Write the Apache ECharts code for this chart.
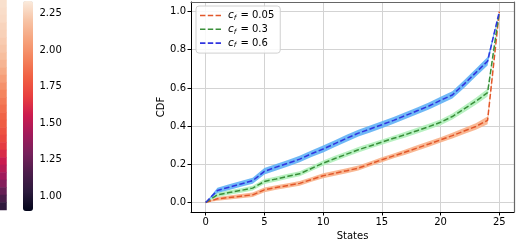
<!DOCTYPE html>
<html><head><meta charset="utf-8">
<script src="https://cdn.jsdelivr.net/npm/echarts@6/dist/echarts.min.js"></script>
<style>html,body{margin:0;padding:0;background:#fff}#c{width:516px;height:242px}</style>
</head><body><div id="c"></div>
<script>
// ---- data ----
const states = [0,1,2,3,4,5,6,7,8,9,10,11,12,13,14,15,16,17,18,19,20,21,22,23,24,25];
const seriesNames = ['c_f = 0.05','c_f = 0.3','c_f = 0.6'];
const cdfLow  = [0,0.019,0.026,0.033,0.040,0.066,0.078,0.089,0.100,0.120,0.140,0.153,0.166,0.180,0.202,0.224,0.244,0.264,0.285,0.306,0.328,0.350,0.374,0.398,0.430,1.0];
const cdfMid  = [0,0.040,0.052,0.063,0.075,0.110,0.123,0.137,0.150,0.178,0.206,0.230,0.253,0.276,0.296,0.316,0.336,0.355,0.376,0.397,0.420,0.450,0.490,0.530,0.575,1.0];
const cdfHigh = [0,0.063,0.080,0.097,0.114,0.163,0.185,0.205,0.227,0.255,0.280,0.308,0.336,0.363,0.385,0.407,0.430,0.455,0.480,0.505,0.535,0.563,0.620,0.680,0.740,1.0];
const spreadLow  = [0,0.010,0.011,0.011,0.012,0.012,0.012,0.012,0.012,0.012,0.013,0.013,0.013,0.013,0.013,0.013,0.013,0.014,0.014,0.014,0.014,0.015,0.016,0.017,0.020,0];
const spreadMid  = [0,0.011,0.012,0.012,0.012,0.013,0.013,0.013,0.013,0.013,0.014,0.014,0.014,0.014,0.014,0.014,0.014,0.015,0.015,0.015,0.015,0.016,0.017,0.018,0.020,0];
const spreadHigh = [0,0.014,0.015,0.015,0.016,0.017,0.017,0.017,0.017,0.017,0.018,0.018,0.018,0.018,0.018,0.018,0.018,0.018,0.018,0.018,0.019,0.019,0.020,0.020,0.022,0];
const xTicks = [0,5,10,15,20,25];
const yTicks = [0,0.2,0.4,0.6,0.8,1.0];
const cbarTicks = [1.00,1.25,1.50,1.75,2.00,2.25];
const heatStrip = [2.30,2.29,2.28,2.26,2.25,2.23,2.21,2.18,2.14,2.10,2.05,2.00,1.95,1.91,1.87,1.83,1.80,1.76,1.72,1.67,1.61,1.55,1.49,1.42,1.33,1.24,1.15,1.05];

// ---- styling ----
const FONT = 'DejaVu Sans';
const lineColors = ['#e2572a','#3a8f3a','#3035e0'];
const bandColors = ['#f8b088','#b0f0ba','#5fb0f5'];
const cdfs = [cdfLow, cdfMid, cdfHigh];
const spreads = [spreadLow, spreadMid, spreadHigh];
const dashIcon = 'path://M0,0h5.5v1.6h-5.5z M7.9,0h5.5v1.6h-5.5z M15.8,0h5.5v1.6h-5.5z';

const chart = echarts.init(document.getElementById('c'), null, {renderer:'canvas'});

const series = [];
// heatmap strip (left, cut off)
series.push({
  type:'heatmap', xAxisIndex:2, yAxisIndex:2,
  data: heatStrip.map((v,i)=>[0,i,v]), silent:true
});
// bands as polygons (through the axis scales)
cdfs.forEach((d,k)=>{
  const sp = spreads[k];
  const rows = states.map((s,i)=>[s, d[i]-sp[i], d[i]+sp[i]]);
  series.push({
    type:'custom', xAxisIndex:0, yAxisIndex:0, silent:true, z:2,
    data: rows,
    encode:{x:0, y:[1,2]},
    renderItem:(params, api)=>{
      if (params.dataIndex !== 0) return null;
      const upper = rows.map(r=>api.coord([r[0], r[2]]));
      const lower = rows.map(r=>api.coord([r[0], r[1]])).reverse();
      return {type:'polygon', shape:{points: upper.concat(lower)},
              style:{fill:bandColors[k], opacity:0.9}};
    }
  });
});
// dashed lines
cdfs.forEach((d,k)=>{
  series.push({
    name: seriesNames[k], type:'line', xAxisIndex:0, yAxisIndex:0, symbol:'none', silent:true,
    data: states.map((s,i)=>[s, d[i]]),
    lineStyle:{color:lineColors[k], width:1.5, type:[5.5,2.4]},
    itemStyle:{color:lineColors[k]}, z:3
  });
});

const option = {
  animation:false,
  textStyle:{fontFamily:FONT},
  grid:[
    {left:191, top:2, width:323, height:210, containLabel:false, outerBoundsMode:'none'},
    {left:23, top:1, width:10, height:210, containLabel:false, outerBoundsMode:'none'},
    {left:0, top:0, width:6.5, height:210, containLabel:false, outerBoundsMode:'none'}
  ],
  xAxis:[
    {gridIndex:0, type:'value', min:-1.25, max:26.25,
     name:'States', nameLocation:'middle', nameGap:19,
     nameTextStyle:{fontFamily:FONT, fontSize:10, color:'#000'},
     axisLine:{show:true, onZero:false, lineStyle:{color:'#000', width:1}},
     axisTick:{show:true, length:3.5, customValues:xTicks, lineStyle:{color:'#000'}},
     axisLabel:{customValues:xTicks, fontFamily:FONT, fontSize:10, color:'#000', margin:5},
     splitLine:{show:true, lineStyle:{color:'#d3d3d3', width:1}}},
    {gridIndex:1, type:'value', show:false},
    {gridIndex:2, type:'category', data:['a'], show:false},
    {gridIndex:0, type:'value', min:-1.25, max:26.25, position:'top',
     axisLine:{show:true, onZero:false, lineStyle:{color:'#666', width:1.2}},
     axisTick:{show:false}, axisLabel:{show:false}, splitLine:{show:false}}
  ],
  yAxis:[
    {gridIndex:0, type:'value', min:-0.05, max:1.05,
     name:'CDF', nameLocation:'middle', nameGap:25, nameRotate:90,
     nameMoveOverlap:false,
     nameTextStyle:{fontFamily:FONT, fontSize:10, color:'#000'},
     axisLine:{show:true, onZero:false, lineStyle:{color:'#000', width:1}},
     axisTick:{show:true, length:3.5, customValues:yTicks, lineStyle:{color:'#000'}},
     axisLabel:{customValues:yTicks, fontFamily:FONT, fontSize:10, color:'#000', margin:5,
       formatter:v=>Number(v).toFixed(1)},
     splitLine:{show:true, lineStyle:{color:'#d3d3d3', width:1}}},
    {gridIndex:1, type:'value', min:0.9, max:2.337, position:'right',
     axisLine:{show:false},
     axisTick:{show:true, length:3.5, customValues:cbarTicks, lineStyle:{color:'#000'}},
     axisLabel:{customValues:cbarTicks, fontFamily:FONT, fontSize:10, color:'#000', margin:6.5,
       formatter:v=>Number(v).toFixed(2)},
     splitLine:{show:false}},
    {gridIndex:2, type:'category', inverse:true, data:heatStrip.map((v,i)=>String(i)), show:false},
    {gridIndex:0, type:'value', min:-0.05, max:1.05, position:'right',
     axisLine:{show:true, onZero:false, lineStyle:{color:'#666', width:1.2}},
     axisTick:{show:false}, axisLabel:{show:false}, splitLine:{show:false}}
  ],
  visualMap:{
    type:'continuous', min:0.9, max:2.337, seriesIndex:0,
    left:23, top:1, itemWidth:10, itemHeight:210, padding:0,
    calculable:false, hoverLink:false, text:null, showLabel:false,
    inRange:{color:['#03051a','#2b1a3c','#4c1d4b','#76215b','#a11a5b','#cb1b4f','#e83f3f','#f06043','#f4845d','#f6a47e','#f7c4a6','#faebdd']}
  },
  legend:{
    data:seriesNames.map((n,k)=>({name:n, icon:dashIcon, itemStyle:{color:lineColors[k]}})),
    orient:'vertical', left:196, top:6,
    padding:[4,6,4,4], itemGap:2.3, itemWidth:21, itemHeight:1.6,
    borderColor:'#d0d0d0', borderWidth:1, borderRadius:3,
    backgroundColor:'rgba(255,255,255,0.85)',
    formatter:name=>{
      const val = name.split('= ')[1];
      return '{c|c}{f|f}{e| = ' + val + '}';
    },
    textStyle:{fontFamily:FONT, fontSize:10, color:'#000', padding:[0,0,0,2],
      rich:{
        c:{fontFamily:FONT, fontSize:10.5, fontStyle:'italic', color:'#000', height:12},
        f:{fontFamily:FONT, fontSize:7, fontStyle:'italic', color:'#000', padding:[5,1,0,0]},
        e:{fontFamily:FONT, fontSize:10, color:'#000'}
      }}
  },
  series: series
};
chart.setOption(option);
</script></body></html>
